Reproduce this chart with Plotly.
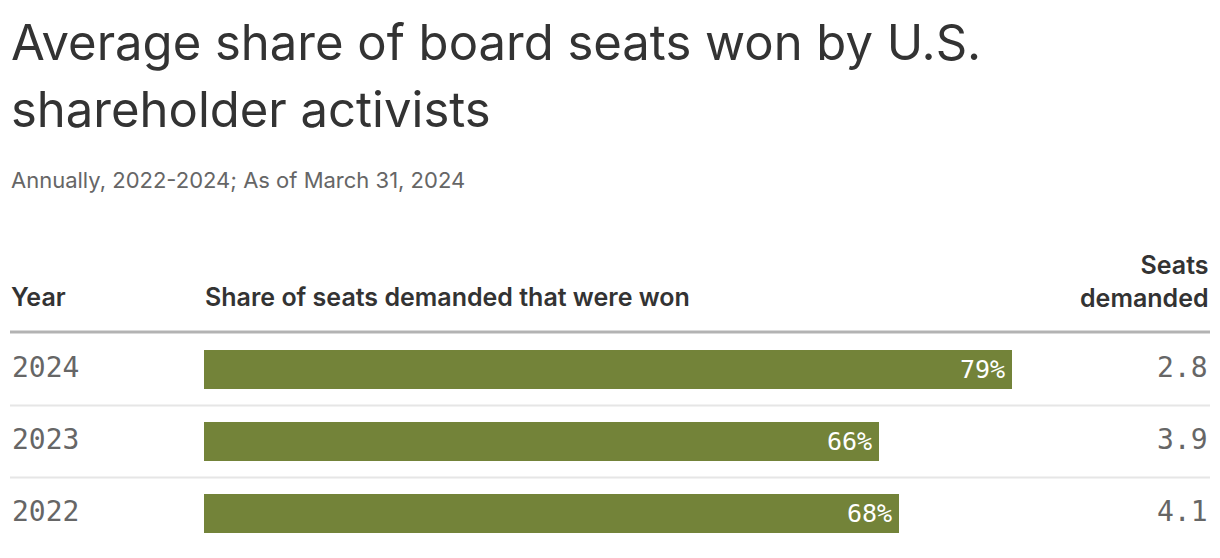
import plotly.graph_objects as go

# ---- data ----
years = ["2024", "2023", "2022"]
share_won = [79, 66, 68]            # % of seats demanded that were won
seats_demanded = [2.8, 3.9, 4.1]
title_lines = ["Average share of board seats won by U.S.", "shareholder activists"]
subtitle = "Annually, 2022-2024; As of March 31, 2024"
col_year = "Year"
col_share = "Share of seats demanded that were won"
col_seats = "Seats<br>demanded"

# ---- style ----
W, H = 1220, 558
BAR = "#738339"
SANS = "Inter, Noto Sans, sans-serif"
MONO = "DejaVu Sans Mono, monospace"

def py(px):  # pixel-from-top -> paper y
    return 1 - px / H

fig = go.Figure()
fig.add_trace(go.Bar(
    x=share_won, y=list(range(len(years))), orientation="h",
    marker=dict(color=BAR, line=dict(width=0)),
    width=0.545,
    hoverinfo="skip",
))

ann = []
for i, line in enumerate(title_lines):
    ann.append(dict(text=line, x=9 / W, y=py(42 + 67 * i), xref="paper", yref="paper",
                    xanchor="left", yanchor="middle", showarrow=False,
                    font=dict(family=SANS, size=49, color="#333333")))
ann.append(dict(text=subtitle, x=9 / W, y=py(180), xref="paper", yref="paper",
                xanchor="left", yanchor="middle", showarrow=False,
                font=dict(family=SANS, size=22, color="#666666")))
hdr_font = dict(family=SANS, size=25, color="#333333", weight=600)
ann.append(dict(text=col_year, x=9 / W, y=py(297), xref="paper", yref="paper",
                xanchor="left", yanchor="middle", showarrow=False, font=hdr_font))
ann.append(dict(text=col_share, x=203 / W, y=py(297), xref="paper", yref="paper",
                xanchor="left", yanchor="middle", showarrow=False, font=hdr_font))
ann.append(dict(text=col_seats, x=1211 / W, y=py(281), xref="paper", yref="paper",
                xanchor="right", yanchor="middle", align="right", showarrow=False,
                font=hdr_font))

for i, (yr, v, s) in enumerate(zip(years, share_won, seats_demanded)):
    ann.append(dict(text=yr, x=10 / W, y=i, xref="paper", yref="y",
                    xanchor="left", yanchor="middle", showarrow=False, yshift=2,
                    font=dict(family=MONO, size=28, color="#666666")))
    ann.append(dict(text=f"{s:.1f}", x=1210 / W, y=i, xref="paper", yref="y",
                    xanchor="right", yanchor="middle", showarrow=False, yshift=2,
                    font=dict(family=MONO, size=28, color="#666666")))
    ann.append(dict(text=f"{v}%", x=v, y=i, xref="x", yref="y",
                    xanchor="right", yanchor="middle", showarrow=False,
                    xshift=-5, yshift=0,
                    font=dict(family=MONO, size=25, color="white")))

shapes = [dict(type="line", xref="paper", yref="y", x0=10 / W, x1=1210 / W,
               y0=-0.521, y1=-0.521, line=dict(color="#b3b3b3", width=3))]
for k in range(len(years) - 1):
    shapes.append(dict(type="line", xref="paper", yref="y", x0=10 / W, x1=1210 / W,
                       y0=k + 0.5, y1=k + 0.5, line=dict(color="#e6e6e6", width=2)))

px_per_unit = (1012 - 204) / 79.0
fig.update_layout(
    width=W, height=H,
    margin=dict(l=0, r=0, t=0, b=0),
    paper_bgcolor="white", plot_bgcolor="white",
    showlegend=False,
    bargap=0,
    xaxis=dict(domain=[204 / W, 1], range=[0, (W - 204) / px_per_unit],
               visible=False, fixedrange=True),
    yaxis=dict(domain=[0, 1],
               range=[(H - 369.5) / 72.0, -369.5 / 72.0],
               visible=False, fixedrange=True),
    annotations=ann,
    shapes=shapes,
)

fig.write_html("out.html", config={"displayModeBar": False},
               post_script="document.body.style.margin='0';document.body.style.padding='0';")
